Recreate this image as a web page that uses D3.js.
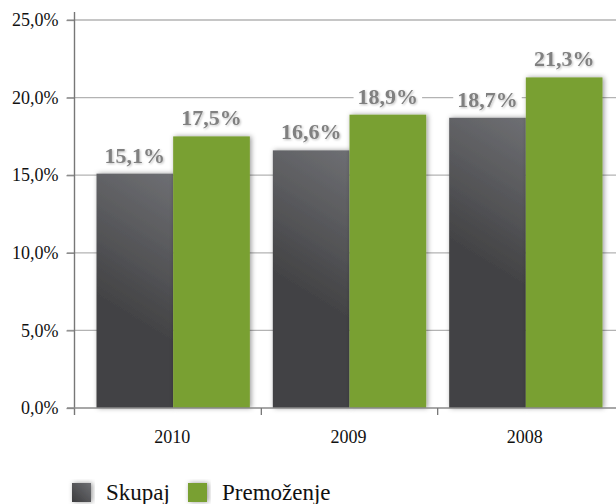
<!DOCTYPE html>
<html><head><meta charset="utf-8">
<script src="https://cdn.jsdelivr.net/npm/d3@7"></script>
<style>body{margin:0;background:#fff}svg{display:block}
svg text{font-family:"Liberation Serif","Times New Roman",Times,"DejaVu Serif",serif}</style>
</head><body>
<svg id="c" width="616" height="504"></svg>
<script>
const categories = ["2010", "2009", "2008"];
const seriesNames = ["Skupaj", "Premoženje"];
const skupaj = [15.1, 16.6, 18.7];
const premozenje = [17.5, 18.9, 21.3];
const yTicks = [0, 5, 10, 15, 20, 25];
const fmt = v => v.toFixed(1).replace(".", ",") + "%";

const svg = d3.select("#c");
const defs = svg.append("defs");
const g2 = defs.append("linearGradient").attr("id","darkLeg")
  .attr("x1","1").attr("y1","0").attr("x2","0").attr("y2","1");
g2.append("stop").attr("offset","0").attr("stop-color","#6e6f73");
g2.append("stop").attr("offset","1").attr("stop-color","#3c3c3e");
const f = defs.append("filter").attr("id","sh").attr("x","-20%").attr("y","-20%").attr("width","140%").attr("height","140%");
f.append("feDropShadow").attr("dx",1.5).attr("dy",0).attr("stdDeviation",2.5).attr("flood-color","#000").attr("flood-opacity",0.4);
const ft = defs.append("filter").attr("id","tsh").attr("x","-20%").attr("y","-30%").attr("width","140%").attr("height","160%");
ft.append("feDropShadow").attr("dx",1).attr("dy",1).attr("stdDeviation",1).attr("flood-color","#000").attr("flood-opacity",0.25);

const y = d3.scaleLinear().domain([0, 25]).range([408, 20]);
const x0 = d3.scaleBand().domain(categories).range([85, 614]).padding(0);
const x1 = d3.scaleBand().domain(seriesNames).range([11.5, x0.bandwidth() - 11.5]).padding(0);
const values = {"Skupaj": skupaj, "Premoženje": premozenje};

svg.append("g").selectAll("line").data(yTicks.filter(d => d > 0)).join("line")
  .attr("x1", 67).attr("x2", 616).attr("y1", d => y(d)).attr("y2", d => y(d))
  .attr("stroke", "#b3b3b3").attr("stroke-width", 1.3);

const yAxis = d3.axisLeft(y).tickValues(yTicks).tickFormat(fmt).tickSize(8).tickPadding(8);
const ya = svg.append("g").attr("transform", "translate(74.5,0)").call(yAxis);
ya.select(".domain").remove();
ya.attr("font-family", null);
ya.selectAll(".tick line").attr("stroke", "#8a8a8a").attr("stroke-width", 1.3);
ya.selectAll("text").attr("font-size", 18).attr("fill", "#111");
svg.append("line").attr("x1", 74.5).attr("x2", 74.5).attr("y1", 12).attr("y2", 415)
  .attr("stroke", "#777").attr("stroke-width", 1.4);

const bars = svg.append("g");
categories.forEach((cat, i) => {
  seriesNames.forEach((s, j) => {
    const v = values[s][i];
    const bx = x0(cat) + x1(s), bw = x1.bandwidth(), by = y(v);
    let fill = "#79a031";
    if (j === 0) {
      const id = "dk" + i;
      const gr = defs.append("linearGradient").attr("id", id).attr("gradientUnits", "userSpaceOnUse")
        .attr("x1", bx + bw).attr("y1", by).attr("x2", bx).attr("y2", by + 125);
      gr.append("stop").attr("offset", "0").attr("stop-color", "#6e6f73");
      gr.append("stop").attr("offset", "1").attr("stop-color", "#424244");
      fill = `url(#${id})`;
    }
    bars.append("rect").attr("x", bx).attr("width", bw)
      .attr("y", by).attr("height", y(0) - by)
      .attr("fill", fill).attr("filter", "url(#sh)");
  });
});

svg.append("line").attr("x1", 67).attr("x2", 616).attr("y1", 408).attr("y2", 408)
  .attr("stroke", "#8a8a8a").attr("stroke-width", 1.4);
svg.append("g").selectAll("line").data(categories.slice(1)).join("line")
  .attr("x1", d => x0(d)).attr("x2", d => x0(d)).attr("y1", 408).attr("y2", 415)
  .attr("stroke", "#777").attr("stroke-width", 1.3);
svg.append("g").selectAll("text").data(categories).join("text")
  .attr("x", d => x0(d) + x0.bandwidth() / 2 - 1).attr("y", 443)
  .attr("text-anchor", "middle")
  .attr("font-size", 18).attr("fill", "#111").text(d => d);

const lab = svg.append("g");
categories.forEach((cat, i) => {
  seriesNames.forEach(s => {
    const v = values[s][i];
    const cx = x0(cat) + x1(s) + x1.bandwidth() / 2;
    const t = lab.append("text").attr("x", cx).attr("y", y(v) - 11)
      .attr("text-anchor", "middle")
      .attr("font-weight", "bold").attr("font-size", 22).attr("fill", "#808080")
      .attr("filter", "url(#tsh)").text(fmt(v));
    const bb = t.node().getBBox();
    lab.insert("rect", () => t.node()).attr("x", bb.x - 4).attr("y", bb.y + 3)
      .attr("width", bb.width + 8).attr("height", bb.height - 6).attr("fill", "#fff");
  });
});

const legX = [72, 188];
const leg = svg.append("g");
seriesNames.forEach((s, i) => {
  leg.append("rect").attr("x", legX[i]).attr("y", 483).attr("width", 19).attr("height", 19)
    .attr("fill", i === 0 ? "url(#darkLeg)" : "#79a031").attr("filter", "url(#sh)");
  leg.append("text").attr("x", legX[i] + 34).attr("y", 500)
    .attr("font-size", 23).attr("fill", "#111").text(s);
});
</script>
</body></html>
